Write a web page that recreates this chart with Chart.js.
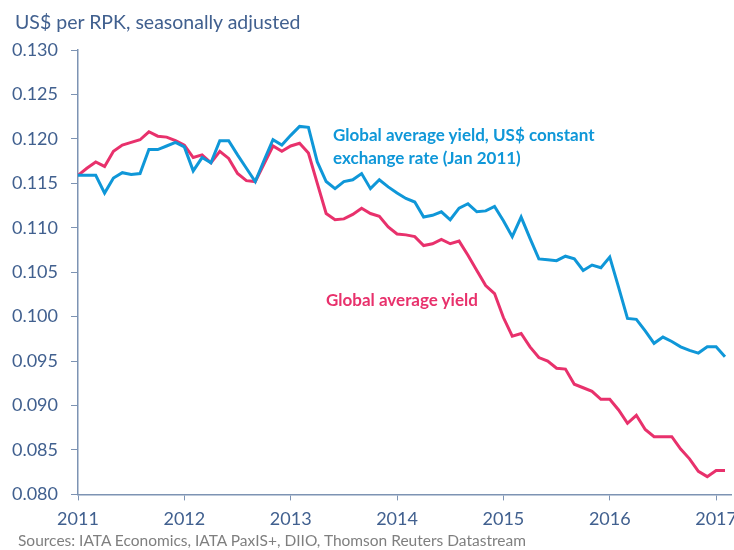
<!DOCTYPE html>
<html>
<head>
<meta charset="utf-8">
<script src="https://cdn.jsdelivr.net/npm/chart.js@4.4.1/dist/chart.umd.min.js"></script>
<style>
  body { margin: 0; overflow: hidden; background: #fff; font-family: Lato, sans-serif; }
  #wrap { position: relative; width: 750px; height: 550px; }
  .lbl { position: absolute; white-space: nowrap; line-height: 1; }
  #ytitle { left: 15px; top: 12px; font-size: 19.5px; color: #41608f; }
  #src { left: 18px; top: 533px; font-size: 15.5px; color: #7f7f7f; }
  .blue { color: #0f97d8; font-weight: bold; font-size: 17px; }
  .pink { color: #e8316c; font-weight: bold; font-size: 17px; }
</style>
</head>
<body>
<div id="wrap">
  <canvas id="yieldChart"></canvas>
  <div class="lbl" id="ytitle">US$ per RPK, seasonally adjusted</div>
  <div class="lbl blue" style="left:333px; top:126px;">Global average yield, US$ constant</div>
  <div class="lbl blue" style="left:333px; top:149px;">exchange rate (Jan 2011)</div>
  <div class="lbl pink" style="left:326px; top:291px;">Global average yield</div>
  <div class="lbl" id="src">Sources: IATA Economics, IATA PaxIS+, DIIO, Thomson Reuters Datastream</div>
</div>

<script>
  // monthly series, Jan 2011 .. Feb 2017
  const startYear = 2011;
  const yearTicks = [2011, 2012, 2013, 2014, 2015, 2016, 2017];

  const constantFx = [
    0.1159, 0.1159, 0.1159, 0.1139, 0.1156, 0.1162, 0.1160, 0.1161, 0.1188, 0.1188, 0.1192, 0.1196,
    0.1191, 0.1164, 0.1179, 0.1173, 0.1198, 0.1198, 0.1182, 0.1167, 0.1152, 0.1176, 0.1199, 0.1193,
    0.1204, 0.1214, 0.1213, 0.1174, 0.1152, 0.1144, 0.1152, 0.1154, 0.1161, 0.1144, 0.1154, 0.1146,
    0.1139, 0.1133, 0.1129, 0.1112, 0.1114, 0.1118, 0.1109, 0.1122, 0.1127, 0.1118, 0.1119, 0.1124,
    0.1108, 0.1090, 0.1112, 0.1088, 0.1065, 0.1064, 0.1063, 0.1068, 0.1065, 0.1052, 0.1058, 0.1055,
    0.1067, 0.1033, 0.0998, 0.0997, 0.0984, 0.0970, 0.0977, 0.0972, 0.0966, 0.0962, 0.0959, 0.0966,
    0.0966, 0.0955
  ];

  const avgYield = [
    0.1159, 0.1167, 0.1174, 0.1169, 0.1186, 0.1193, 0.1196, 0.1199, 0.1208, 0.1203, 0.1202, 0.1198,
    0.1193, 0.1179, 0.1182, 0.1173, 0.1186, 0.1178, 0.1161, 0.1153, 0.1152, 0.1172, 0.1192, 0.1186,
    0.1192, 0.1195, 0.1184, 0.1150, 0.1116, 0.1109, 0.1110, 0.1115, 0.1122, 0.1116, 0.1113, 0.1101,
    0.1093, 0.1092, 0.1090, 0.1080, 0.1082, 0.1087, 0.1082, 0.1085, 0.1069, 0.1052, 0.1035, 0.1026,
    0.0999, 0.0978, 0.0981, 0.0966, 0.0954, 0.0950, 0.0942, 0.0941, 0.0924, 0.0920, 0.0916, 0.0907,
    0.0907, 0.0895, 0.0880, 0.0889, 0.0873, 0.0865, 0.0865, 0.0865, 0.0851, 0.0840, 0.0826, 0.0820,
    0.0827, 0.0827
  ];

  const toPoints = arr => arr.map((v, i) => ({ x: startYear + i / 12, y: v }));

  const axisCol = '#7d93b3';
  const textCol = '#41608f';

  new Chart(document.getElementById('yieldChart'), {
    type: 'line',
    data: {
      datasets: [
        { label: 'Global average yield, US$ constant exchange rate (Jan 2011)', data: toPoints(constantFx),
          borderColor: '#0f97d8', borderWidth: 3, pointRadius: 0, tension: 0 },
        { label: 'Global average yield', data: toPoints(avgYield),
          borderColor: '#e8316c', borderWidth: 3, pointRadius: 0, tension: 0 }
      ]
    },
    options: {
      responsive: true,
      maintainAspectRatio: false,
      animation: false,
      layout: { padding: { top: 50, right: 19, bottom: 12, left: 0 } },
      plugins: { legend: { display: false }, tooltip: { enabled: false } },
      scales: {
        x: {
          type: 'linear',
          min: 2011,
          max: 2017.14,
          afterBuildTicks: scale => { scale.ticks = yearTicks.map(v => ({ value: v })); },
          border: { display: true, color: axisCol, width: 1.5 },
          grid: { drawOnChartArea: false, drawTicks: true, tickLength: 6, color: axisCol },
          ticks: {
            color: textCol, font: { family: 'Lato', size: 18 }, padding: 8,
            maxRotation: 0, autoSkip: false,
            callback: v => String(v)
          }
        },
        y: {
          min: 0.08,
          max: 0.13,
          afterFit: scale => { scale.width = 78; },
          border: { display: true, color: axisCol, width: 1.5 },
          grid: { drawOnChartArea: false, drawTicks: true, tickLength: 7, color: axisCol },
          ticks: {
            stepSize: 0.005, color: textCol, font: { family: 'Lato', size: 18 }, padding: 13,
            callback: v => v.toFixed(3)
          }
        }
      }
    }
  });
</script>
</body>
</html>
